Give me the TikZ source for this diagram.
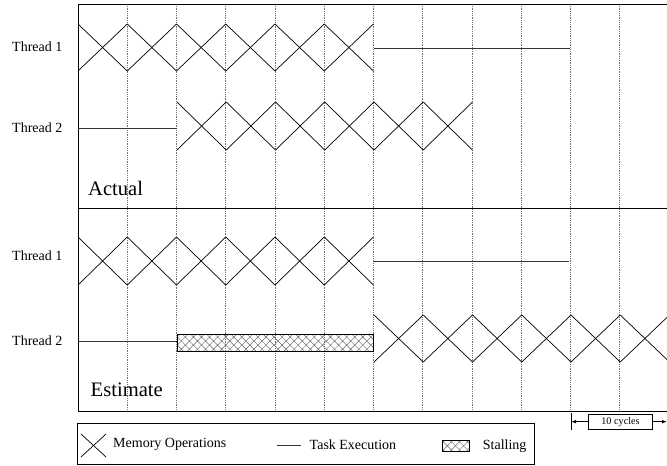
\documentclass[tikz,border=0pt]{standalone}
\usepackage{fontspec}
\setmainfont{Liberation Serif}
\usetikzlibrary{patterns.meta,arrows.meta}

\begin{document}
\begin{tikzpicture}[x=1pt,y=-1pt,
  frameline/.style={line width=0.9pt},
  gridline/.style={densely dotted, black!55, line width=0.8pt},
  memop/.style={line width=0.7pt},
  taskline/.style={line width=1pt, black!80},
  threadlabel/.style={font=\fontsize{14}{16}\selectfont, inner sep=0pt, anchor=west},
  phase/.style={font=\fontsize{20.6}{24}\selectfont, inner sep=0pt, anchor=base west},
  legendtext/.style={font=\fontsize{14}{16}\selectfont, inner sep=0pt, anchor=base west},
  stallbox/.style={draw, line width=0.8pt, pattern={Hatch[angle=45,distance=5.7pt,line width=0.45pt]}, pattern color=black!60},
  cyclebox/.style={draw, line width=0.7pt, inner sep=0pt, minimum width=64pt, minimum height=15.3pt, font=\fontsize{10.2}{12}\selectfont},
  dimarrow/.style={line width=0.8pt, -{Latex[length=5pt,width=3.6pt]}},
]
\useasboundingbox (0,0) rectangle (667,466);
\def\cw{49.25}

% cycle grid
\foreach \k in {1,...,11}
  \draw[gridline] ({78+\k*\cw},4) -- ({78+\k*\cw},411);

% frame and separator between the two phases
\draw[frameline] (667,4) -- (78,4) -- (78,411) -- (667,411);
\draw[frameline] (78,208) -- (667,208);

% memory operations: row of crosses (x start, count, top, bottom)
\newcommand\memrow[4]{%
  \foreach \i in {1,...,#2}{%
    \draw[memop] ({#1+(\i-1)*\cw},#3) -- ({#1+\i*\cw},#4);
    \draw[memop] ({#1+(\i-1)*\cw},#4) -- ({#1+\i*\cw},#3);
  }}

% ---------- Actual ----------
\node[threadlabel] (a1) at (12,47) {Thread 1};
\node[threadlabel] (a2) at (12,128) {Thread 2};
\memrow{78}{6}{24}{71}
\coordinate (a1s) at (374,48);
\coordinate (a1e) at (570,48);
\draw[taskline] (a1s) -- (a1e);
\coordinate (a2s) at (78,128);
\coordinate (a2e) at (177,128);
\draw[taskline] (a2s) -- (a2e);
\memrow{177}{6}{102}{150}
\node[phase] (actual) at (88,195) {Actual};

% ---------- Estimate ----------
\node[threadlabel] (e1) at (12,255.5) {Thread 1};
\node[threadlabel] (e2) at (12,341) {Thread 2};
\memrow{78}{6}{237}{285}
\coordinate (e1s) at (374,261);
\coordinate (e1e) at (569,261);
\draw[taskline] (e1s) -- (e1e);
\coordinate (e2s) at (78,341);
\coordinate (e2e) at (177,341);
\draw[taskline] (e2s) -- (e2e);
\draw[stallbox] (177.3,334) rectangle (373.5,351.3);
\memrow{374}{6}{315}{362}
\node[phase] (estimate) at (90.5,396) {Estimate};

% ---------- scale marker ----------
\node[cyclebox] (cyc) at (620.5,421.7) {10 cycles};
\coordinate (tickT) at (571,413);
\coordinate (tickB) at (571,430);
\draw[line width=0.8pt] (tickT) -- (tickB);
\coordinate (cycL) at (571,421.7);
\coordinate (cycR) at (667,421.7);
\draw[dimarrow] (cyc.west) -- (cycL);
\draw[dimarrow] (cyc.east) -- (cycR);

% ---------- legend ----------
\draw[line width=0.8pt] (77,423) rectangle (534,464);
\draw[memop] (81,434) -- (106,457);
\draw[memop] (81,457) -- (106,434);
\node[legendtext] (lmem) at (113,447.5) {Memory Operations};
\coordinate (ltaskA) at (277,445);
\coordinate (ltaskB) at (301,445);
\draw[taskline] (ltaskA) -- (ltaskB);
\node[legendtext] (ltask) at (309.5,449) {Task Execution};
\draw[stallbox] (442.7,440) rectangle (469.3,451.7);
\node[legendtext] (lstall) at (482.7,449) {Stalling};
\end{tikzpicture}
\end{document}
